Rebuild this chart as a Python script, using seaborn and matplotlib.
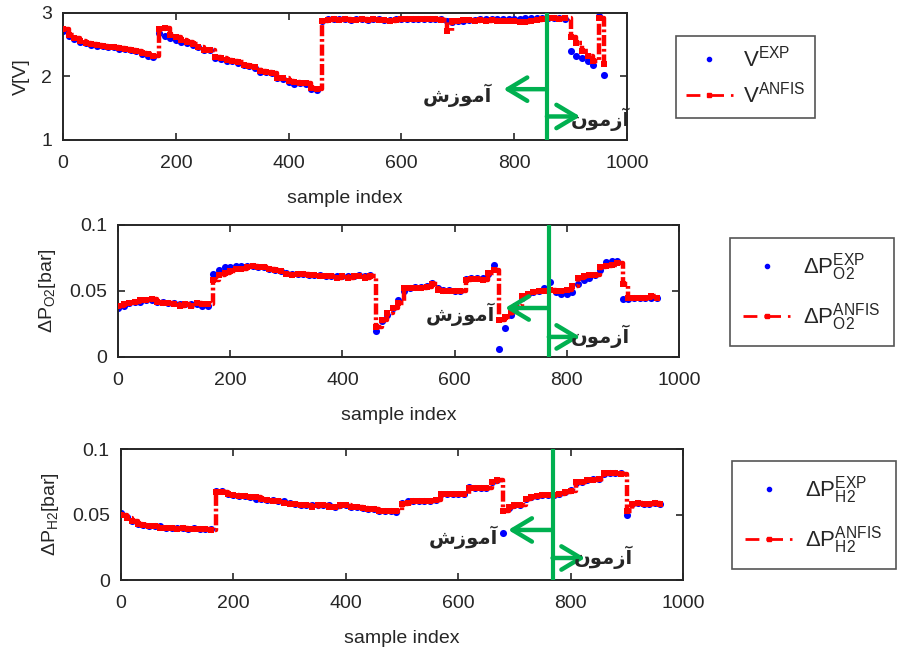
import numpy as np
import pandas as pd
import matplotlib
matplotlib.use("Agg")
import matplotlib.pyplot as plt
from matplotlib.lines import Line2D
import seaborn as sns

# ---------------- data ----------------
sample_index = list(range(0, 961, 10))

V_exp = [2.72, 2.64, 2.59, 2.55, 2.52, 2.50, 2.48, 2.48, 2.47, 2.46,
         2.44, 2.43, 2.42, 2.40, 2.36, 2.32, 2.31,
         2.68, 2.64, 2.60, 2.58, 2.55, 2.53, 2.50, 2.46, 2.42, 2.42,
         2.29, 2.28, 2.25, 2.24, 2.22, 2.18, 2.17, 2.14, 2.07, 2.07,
         2.05, 1.98, 1.96, 1.92, 1.88, 1.89, 1.88, 1.80, 1.78,
         2.88, 2.90, 2.90, 2.90, 2.90, 2.89, 2.90, 2.90, 2.89, 2.90,
         2.90, 2.89, 2.89, 2.90, 2.90, 2.91, 2.90, 2.91, 2.90, 2.91,
         2.91, 2.90, 2.87, 2.86, 2.87, 2.88, 2.89, 2.89, 2.90, 2.90,
         2.90, 2.91, 2.91, 2.91, 2.91, 2.91, 2.92, 2.92, 2.92, 2.92,
         2.92, 2.92, 2.92, 2.91,
         2.40, 2.33, 2.29, 2.24, 2.18, 2.95, 2.02]
V_anfis = [2.74, 2.66, 2.60, 2.56, 2.53, 2.51, 2.49, 2.48, 2.47, 2.46,
           2.45, 2.44, 2.42, 2.40, 2.37, 2.35, 2.32,
           2.75, 2.76, 2.65, 2.62, 2.58, 2.55, 2.51, 2.47, 2.42, 2.41,
           2.30, 2.29, 2.26, 2.24, 2.23, 2.18, 2.17, 2.15, 2.08, 2.07,
           2.05, 1.98, 1.97, 1.93, 1.91, 1.90, 1.89, 1.82, 1.80,
           2.88, 2.89, 2.90, 2.89, 2.90, 2.89, 2.89, 2.90, 2.89, 2.90,
           2.89, 2.89, 2.88, 2.89, 2.90, 2.91, 2.90, 2.91, 2.90, 2.91,
           2.90, 2.89, 2.72, 2.88, 2.88, 2.89, 2.89, 2.88, 2.89, 2.88,
           2.89, 2.88, 2.87, 2.87, 2.88, 2.85, 2.86, 2.88, 2.89, 2.90,
           2.92, 2.92, 2.91, 2.92,
           2.62, 2.52, 2.40, 2.33, 2.24, 2.92, 2.20]

dPO2_exp = [0.037, 0.039, 0.041, 0.042, 0.042, 0.043, 0.043, 0.042, 0.042, 0.041,
            0.041, 0.040, 0.040, 0.040, 0.040, 0.039, 0.039,
            0.063, 0.066, 0.068, 0.068, 0.069, 0.069, 0.069, 0.069, 0.068, 0.068,
            0.067, 0.066, 0.065, 0.064, 0.063, 0.063, 0.063, 0.062, 0.062, 0.062,
            0.061, 0.061, 0.061, 0.061, 0.061, 0.061, 0.062, 0.061, 0.062,
            0.020, 0.027, 0.032, 0.037, 0.043, 0.050, 0.052, 0.053, 0.053, 0.054,
            0.056, 0.052, 0.051, 0.051, 0.050, 0.050, 0.059, 0.060, 0.060, 0.060,
            0.063, 0.070, 0.006, 0.022, 0.032, 0.038, 0.045, 0.048, 0.049, 0.050,
            0.052, 0.057, 0.049, 0.048, 0.048, 0.049, 0.055, 0.058, 0.060, 0.062,
            0.066, 0.072, 0.073, 0.073,
            0.044, 0.044, 0.045, 0.045, 0.045, 0.045, 0.045]
dPO2_anfis = [0.039, 0.040, 0.041, 0.042, 0.043, 0.043, 0.044, 0.042, 0.041, 0.041,
              0.040, 0.039, 0.040, 0.039, 0.041, 0.040, 0.040,
              0.058, 0.062, 0.064, 0.065, 0.067, 0.067, 0.068, 0.069, 0.068, 0.068,
              0.067, 0.066, 0.065, 0.063, 0.062, 0.063, 0.063, 0.062, 0.062, 0.061,
              0.061, 0.061, 0.060, 0.061, 0.060, 0.061, 0.061, 0.060, 0.061,
              0.023, 0.028, 0.033, 0.037, 0.041, 0.052, 0.052, 0.052, 0.052, 0.053,
              0.055, 0.051, 0.050, 0.050, 0.050, 0.050, 0.058, 0.059, 0.059, 0.058,
              0.064, 0.066, 0.028, 0.030, 0.034, 0.039, 0.046, 0.048, 0.049, 0.050,
              0.050, 0.051, 0.050, 0.050, 0.051, 0.054, 0.060, 0.061, 0.062, 0.062,
              0.068, 0.069, 0.070, 0.071,
              0.055, 0.045, 0.045, 0.045, 0.045, 0.046, 0.045]

dPH2_exp = [0.051, 0.048, 0.045, 0.043, 0.042, 0.041, 0.041, 0.041, 0.040, 0.040,
            0.040, 0.040, 0.039, 0.040, 0.039, 0.039, 0.039,
            0.068, 0.068, 0.066, 0.065, 0.064, 0.064, 0.063, 0.062, 0.062, 0.061,
            0.061, 0.060, 0.060, 0.059, 0.058, 0.057, 0.057, 0.057, 0.057, 0.057,
            0.057, 0.056, 0.057, 0.057, 0.056, 0.056, 0.055, 0.054, 0.054,
            0.053, 0.053, 0.053, 0.052, 0.059, 0.060, 0.060, 0.060, 0.060, 0.060,
            0.061, 0.066, 0.066, 0.066, 0.066, 0.066, 0.071, 0.070, 0.070, 0.070,
            0.075, 0.076, 0.036, 0.055, 0.057, 0.057, 0.062, 0.063, 0.064, 0.065,
            0.065, 0.065, 0.066, 0.067, 0.069, 0.074, 0.075, 0.076, 0.077, 0.077,
            0.081, 0.082, 0.082, 0.082,
            0.050, 0.058, 0.059, 0.058, 0.058, 0.059, 0.058]
dPH2_anfis = [0.050, 0.047, 0.045, 0.043, 0.042, 0.041, 0.041, 0.040, 0.040, 0.040,
              0.039, 0.040, 0.039, 0.039, 0.039, 0.039, 0.038,
              0.067, 0.067, 0.066, 0.065, 0.064, 0.064, 0.063, 0.063, 0.062, 0.061,
              0.060, 0.060, 0.059, 0.058, 0.058, 0.057, 0.057, 0.056, 0.057, 0.057,
              0.056, 0.056, 0.057, 0.057, 0.056, 0.056, 0.055, 0.054, 0.054,
              0.053, 0.053, 0.053, 0.053, 0.058, 0.059, 0.060, 0.060, 0.060, 0.060,
              0.061, 0.066, 0.066, 0.066, 0.066, 0.066, 0.070, 0.070, 0.070, 0.070,
              0.075, 0.076, 0.053, 0.056, 0.057, 0.057, 0.062, 0.063, 0.064, 0.065,
              0.065, 0.065, 0.066, 0.067, 0.068, 0.075, 0.075, 0.076, 0.076, 0.077,
              0.082, 0.082, 0.082, 0.081,
              0.053, 0.058, 0.059, 0.058, 0.058, 0.059, 0.058]

x_ticks = [0, 200, 400, 600, 800, 1000]
split_index = [858, 768, 768]           # train/test boundary per panel
train_label = "\uFEB5\uFEAF\uFEEE\uFEE3\uFE81"   # آموزش (shaped, visual order)
test_label = "\uFEE5\uFEEE\uFEE3\uFEAF\uFE81"    # آزمون (shaped, visual order)

# ---------------- style ----------------
sns.set_style("ticks")
plt.rcParams["font.family"] = ["Liberation Sans", "DejaVu Sans"]
plt.rcParams["mathtext.fontset"] = "custom"
plt.rcParams["mathtext.rm"] = "Liberation Sans"
plt.rcParams["mathtext.it"] = "Liberation Sans:italic"
plt.rcParams["mathtext.bf"] = "Liberation Sans:bold"
plt.rcParams["lines.scale_dashes"] = False

GREEN = "#00B050"
DASH = [8, 2, 2, 2]
TXT = "#262626"

fig = plt.figure(figsize=(8.98, 6.55), dpi=100)
ax_pos = [
    [0.0702, 0.7863, 0.6280, 0.1939],
    [0.1314, 0.4550, 0.6247, 0.2015],
    [0.1347, 0.1145, 0.6258, 0.2000],
]
panels = [
    dict(exp=V_exp, anfis=V_anfis, ylim=(1, 3), yticks=[1, 2, 3], yticklabels=["1", "2", "3"],
         ylabel="V[V]",
         lab_exp=r"$\mathregular{V^{EXP}}$", lab_anf=r"$\mathregular{V^{ANFIS}}$",
         arrow_l=(781, 1.80), arrow_r=(917, 1.37), txt_l=(700, 1.71), txt_r=(952, 1.33),
         leg=(0.7528, 0.9450), lspace=0.45, bpad=0.45, hpad=0.45),
    dict(exp=dPO2_exp, anfis=dPO2_anfis, ylim=(0, 0.1), yticks=[0, 0.05, 0.1],
         yticklabels=["0", "0.05", "0.1"],
         ylabel=r"$\Delta\mathregular{P}_{\mathregular{O2}}$[bar]",
         lab_exp=r"$\Delta\mathregular{P}_{\mathregular{O2}}^{\mathregular{EXP}}$",
         lab_anf=r"$\Delta\mathregular{P}_{\mathregular{O2}}^{\mathregular{ANFIS}}$",
         arrow_l=(690, 0.0371), arrow_r=(824, 0.0152), txt_l=(610, 0.0326), txt_r=(859, 0.0159),
         leg=(0.8129, 0.6366), lspace=0.8, bpad=0.6, hpad=0.6),
    dict(exp=dPH2_exp, anfis=dPH2_anfis, ylim=(0, 0.1), yticks=[0, 0.05, 0.1],
         yticklabels=["0", "0.05", "0.1"],
         ylabel=r"$\Delta\mathregular{P}_{\mathregular{H2}}$[bar]",
         lab_exp=r"$\Delta\mathregular{P}_{\mathregular{H2}}^{\mathregular{EXP}}$",
         lab_anf=r"$\Delta\mathregular{P}_{\mathregular{H2}}^{\mathregular{ANFIS}}$",
         arrow_l=(689, 0.0382), arrow_r=(826, 0.0168), txt_l=(609, 0.0328), txt_r=(858, 0.0176),
         leg=(0.8151, 0.2962), lspace=0.8, bpad=0.6, hpad=0.6),
]

for k, (pos, p) in enumerate(zip(ax_pos, panels)):
    ax = fig.add_axes(pos)
    df = pd.DataFrame({"sample": sample_index, "exp": p["exp"], "anfis": p["anfis"]})
    sns.scatterplot(data=df, x="sample", y="exp", ax=ax, color="blue", s=26,
                    linewidth=0, zorder=2, legend=False)
    sns.lineplot(data=df, x="sample", y="anfis", ax=ax, color="red", lw=3.2,
                 drawstyle="steps-post", marker="s", markersize=4, markeredgewidth=0,
                 estimator=None, zorder=3, legend=False)
    ax.lines[-1].set_dashes(DASH)

    ax.set_xlim(0, 1000)
    ax.set_ylim(*p["ylim"])
    ax.set_xticks(x_ticks)
    ax.set_xticklabels([str(t) for t in x_ticks])
    ax.set_yticks(p["yticks"])
    ax.set_yticklabels(p["yticklabels"])
    ax.set_xlabel("sample index", fontsize=14, labelpad=13, color=TXT)
    ax.set_ylabel(p["ylabel"], fontsize=14, labelpad=8, color=TXT)
    ax.tick_params(direction="in", top=True, right=True, length=5, width=1.2,
                   labelsize=14, colors=TXT, pad=8)
    ax.tick_params(axis="x", pad=11)
    for sp in ax.spines.values():
        sp.set_linewidth(1.4)
        sp.set_color(TXT)
        sp.set_visible(True)

    xs = split_index[k]
    ax.axvline(xs, color=GREEN, lw=3, zorder=5)
    for tip in (p["arrow_l"], p["arrow_r"]):
        ax.annotate("", xy=tip, xytext=(xs, tip[1]),
                    arrowprops=dict(arrowstyle="->,head_length=0.7,head_width=0.42",
                                    color=GREEN, lw=3.2, shrinkA=0, shrinkB=0,
                                    mutation_scale=20), zorder=5)
    ax.text(*p["txt_l"], train_label, ha="center", va="center", fontsize=14,
            fontweight="bold", family=["DejaVu Sans"], color=TXT, zorder=6)
    ax.text(*p["txt_r"], test_label, ha="center", va="center", fontsize=14,
            fontweight="bold", family=["DejaVu Sans"], color=TXT, zorder=6)

    h_exp = Line2D([], [], color="blue", marker=".", linestyle="none", markersize=6)
    h_anf = Line2D([], [], color="red", marker="s", markersize=3, lw=2, dashes=[10, 5, 2, 0])
    leg = ax.legend([h_exp, h_anf], [p["lab_exp"], p["lab_anf"]], loc="upper left",
                    bbox_to_anchor=p["leg"], bbox_transform=fig.transFigure,
                    borderaxespad=0, fontsize=16, frameon=True, fancybox=False,
                    edgecolor="#555555", framealpha=1, handlelength=2.1,
                    handletextpad=p["hpad"], numpoints=1, labelspacing=p["lspace"],
                    borderpad=p["bpad"])
    leg.get_frame().set_linewidth(1.2)
    for t in leg.get_texts():
        t.set_color(TXT)

fig.savefig("out.png", dpi=100)
